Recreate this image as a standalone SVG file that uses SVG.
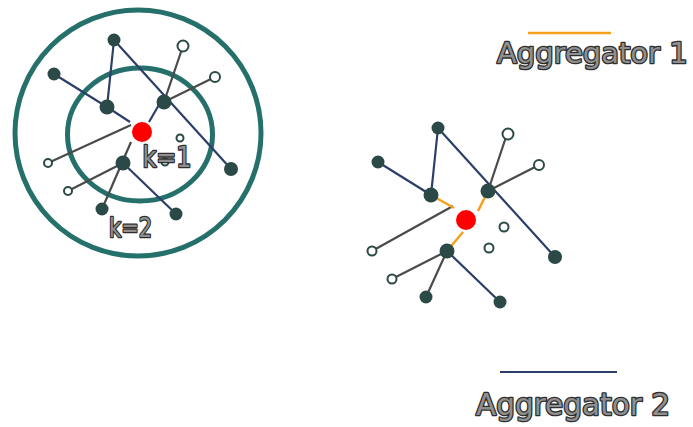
<svg xmlns="http://www.w3.org/2000/svg" width="693" height="427" viewBox="0 0 693 427">
<style>
.ring{fill:none;stroke:#26706b;stroke-width:5}
.dn{fill:#2b4a47}
.on{fill:#fff;stroke:#2b4a47;stroke-width:2}
.red{fill:#ff0000}
.nv{stroke:#2c3f6a;stroke-width:2.2;fill:none}
.gy{stroke:#4a4a4a;stroke-width:2.2;fill:none}
.or{stroke:#f5a01a;stroke-width:2.5;fill:none}
.lbl{font-family:"DejaVu Sans","Verdana",sans-serif;fill:#8f8f8f;stroke:#2e2e2e;stroke-width:2.6;stroke-linejoin:round;paint-order:stroke}
</style>
<rect width="693" height="427" fill="#fff"/>
<g id="rings">
<circle class="ring" cx="138" cy="133" r="123"/>
<ellipse class="ring" cx="140" cy="134.5" rx="72.5" ry="66.5"/>
</g>
<g id="connectors">
<line class="nv" x1="114" y1="40" x2="107" y2="107"/>
<line class="nv" x1="114" y1="40" x2="231" y2="169"/>
<line class="nv" x1="54" y1="74" x2="107" y2="107"/>
<line class="nv" x1="107" y1="107" x2="130" y2="122"/>
<line class="nv" x1="160" y1="103" x2="149" y2="122"/>
<line class="nv" x1="123" y1="163" x2="176" y2="214"/>
<line class="gy" x1="183" y1="46" x2="164" y2="102"/>
<line class="gy" x1="164" y1="102" x2="215" y2="77"/>
<line class="gy" x1="131" y1="125" x2="48" y2="163"/>
<line class="gy" x1="123" y1="163" x2="68" y2="191"/>
<line class="gy" x1="102" y1="209" x2="131" y2="142"/>
<line class="nv" x1="438" y1="128" x2="431" y2="195"/>
<line class="nv" x1="438" y1="128" x2="555" y2="257"/>
<line class="nv" x1="378" y1="162" x2="431" y2="195"/>
<line class="nv" x1="447" y1="251" x2="500" y2="302"/>
<line class="gy" x1="507" y1="134" x2="488" y2="191"/>
<line class="gy" x1="488" y1="191" x2="539" y2="165"/>
<line class="gy" x1="453" y1="206" x2="372" y2="251"/>
<line class="gy" x1="447" y1="251" x2="392" y2="279"/>
<line class="gy" x1="426" y1="297" x2="447" y2="251"/>
<line class="or" x1="431" y1="195" x2="454" y2="208"/>
<line class="or" x1="488" y1="191" x2="478" y2="211"/>
<line class="or" x1="447" y1="251" x2="463" y2="232"/>
<line class="or" x1="528" y1="33" x2="611" y2="33"/>
<line class="nv" x1="500" y1="372" x2="617" y2="372" stroke-width="2.5"/>
</g>
<g id="left-graph">
<g id="L-A"><circle class="dn" cx="114" cy="40" r="6.5"/></g>
<g id="L-B"><circle class="dn" cx="54" cy="74" r="6.5"/></g>
<g id="L-C"><circle class="dn" cx="107" cy="107" r="7.5"/></g>
<g id="L-D"><circle class="dn" cx="164" cy="102" r="7.5"/></g>
<g id="L-E"><circle class="dn" cx="123" cy="163" r="7.5"/></g>
<g id="L-F"><circle class="dn" cx="231" cy="169" r="7"/></g>
<g id="L-G"><circle class="dn" cx="102" cy="209" r="6.5"/></g>
<g id="L-H"><circle class="dn" cx="176" cy="214" r="6.5"/></g>
<g id="L-O1"><circle class="on" cx="183" cy="46" r="5.5"/></g>
<g id="L-O2"><circle class="on" cx="215" cy="77" r="5"/></g>
<g id="L-O3"><circle class="on" cx="180" cy="138" r="3.5"/></g>
<g id="L-O4"><circle class="on" cx="165" cy="162" r="3.5"/></g>
<g id="L-O5"><circle class="on" cx="48" cy="163" r="4"/></g>
<g id="L-O6"><circle class="on" cx="68" cy="191" r="4"/></g>
<g id="L-root"><circle class="red" cx="142" cy="132" r="10"/></g>
</g>
<g id="right-graph">
<g id="R-A"><circle class="dn" cx="438" cy="128" r="6.5"/></g>
<g id="R-B"><circle class="dn" cx="378" cy="162" r="6.5"/></g>
<g id="R-C"><circle class="dn" cx="431" cy="195" r="7.5"/></g>
<g id="R-D"><circle class="dn" cx="488" cy="191" r="7.5"/></g>
<g id="R-E"><circle class="dn" cx="447" cy="251" r="7.5"/></g>
<g id="R-F"><circle class="dn" cx="555" cy="257" r="7"/></g>
<g id="R-G"><circle class="dn" cx="426" cy="297" r="6.5"/></g>
<g id="R-H"><circle class="dn" cx="500" cy="302" r="6.5"/></g>
<g id="R-O1"><circle class="on" cx="508" cy="134" r="5.5"/></g>
<g id="R-O2"><circle class="on" cx="539" cy="165" r="5"/></g>
<g id="R-O3"><circle class="on" cx="504" cy="227" r="4.5"/></g>
<g id="R-O4"><circle class="on" cx="489" cy="248" r="4.5"/></g>
<g id="R-O5"><circle class="on" cx="372" cy="251" r="4.5"/></g>
<g id="R-O6"><circle class="on" cx="392" cy="279" r="4.5"/></g>
<g id="R-root"><circle class="red" cx="466" cy="220" r="10"/></g>
</g>
<g id="labels">
<text class="lbl" x="142.5" y="166.5" font-size="28" textLength="49" lengthAdjust="spacingAndGlyphs">k=1</text>
<text class="lbl" x="109" y="236.5" font-size="27" textLength="43" lengthAdjust="spacingAndGlyphs">k=2</text>
<text class="lbl" x="497" y="63" font-size="29">Aggregator 1</text>
<text class="lbl" x="476" y="415" font-size="29.5">Aggregator 2</text>
</g>
</svg>
